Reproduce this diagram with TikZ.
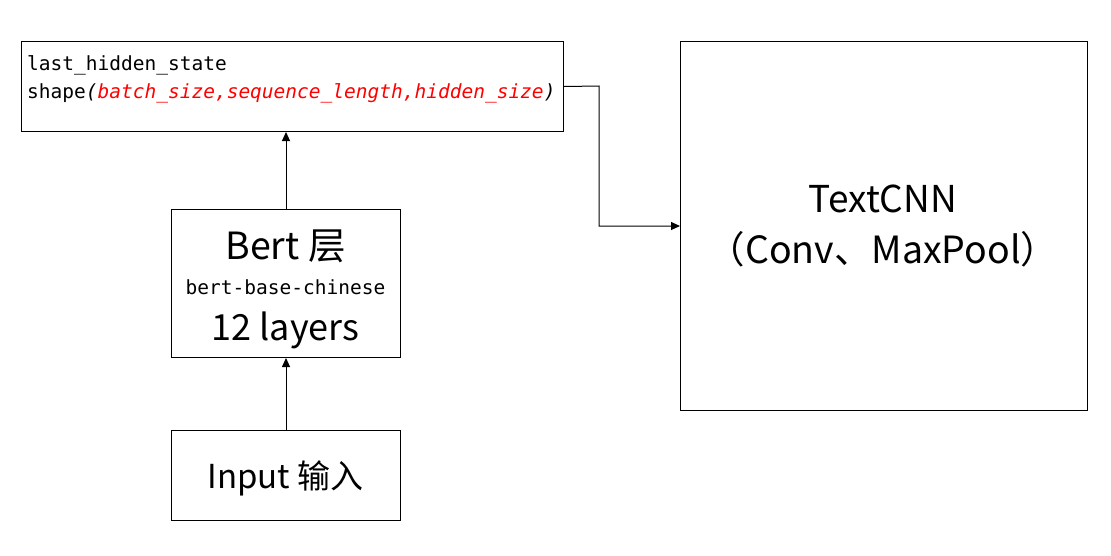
\documentclass[tikz,border=0pt]{standalone}
\usepackage{fontspec}
\usetikzlibrary{arrows.meta}
\setmainfont{Noto Sans CJK SC}
\setmonofont{DejaVu Sans Mono}
\begin{document}
\begin{tikzpicture}[x=1pt,y=-1pt,
  box/.style={draw, line width=1pt, inner sep=0pt, anchor=north west},
  arr/.style={-{Triangle[length=9pt,width=8pt]}, line width=1pt},
  mono/.style={font=\ttfamily\fontsize{19.5}{22}\selectfont, inner sep=0pt},
  sans/.style={inner sep=0pt, anchor=base}]
\useasboundingbox (0,0) rectangle (1111,555);
\node[box, minimum width=542pt, minimum height=90pt] (lhs) at (21,41) {};
\node[box, minimum width=229pt, minimum height=148pt] (bert) at (171,209) {};
\node[box, minimum width=229pt, minimum height=90pt] (inp) at (171,430) {};
\node[box, minimum width=407pt, minimum height=369pt] (cnn) at (680,41) {};
% texts
\node[mono, anchor=base west] (t1) at (27,70) {last\_hidden\_state};
\node[mono, anchor=base west] (t2) at (27,98) {shape\textit{(\textcolor{red}{batch\_size,sequence\_length,hidden\_size})}};
\node[sans, font=\fontsize{37.5}{44}\selectfont] (t3) at (285.5,259) {Bert 层};
\node[mono, anchor=base] (t4) at (285.5,294) {bert-base-chinese};
\node[sans, font=\fontsize{36}{44}\selectfont] (t5) at (285.5,340) {12 layers};
\node[sans, font=\fontsize{33}{40}\selectfont] (t6) at (285.5,488) {Input 输入};
\node[sans, font=\fontsize{37}{44}\selectfont] (t7) at (883,212) {TextCNN};
\node[sans, font=\fontsize{37.5}{44}\selectfont] (t8) at (883,263) {（Conv、MaxPool）};
% connectors
\draw[arr] (inp.north) -- (bert.south);
\draw[arr] (bert.north) -- (bert.north |- lhs.south);
\coordinate (turn) at (599,86);
\draw[arr] (lhs.east) -- (turn) |- (cnn.west);
\end{tikzpicture}
\end{document}
